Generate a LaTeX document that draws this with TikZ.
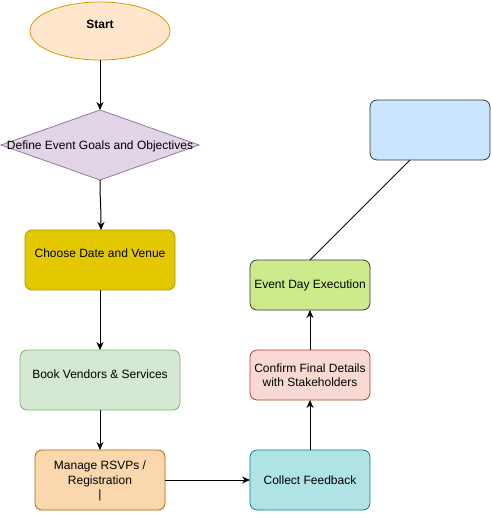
\documentclass[tikz,border=0pt]{standalone}
\usepackage{fontspec}
\setmainfont{Liberation Sans}
\usetikzlibrary{shapes.geometric,arrows.meta}
\definecolor{startfill}{HTML}{FFE6CC}\definecolor{startdraw}{HTML}{D79B00}
\definecolor{diafill}{HTML}{E1D5E7}\definecolor{diadraw}{HTML}{9673A6}
\definecolor{datefill}{HTML}{E3C800}\definecolor{datedraw}{HTML}{B09500}
\definecolor{vendfill}{HTML}{D5E8D4}\definecolor{venddraw}{HTML}{82B366}
\definecolor{rsvpfill}{HTML}{FAD7AC}\definecolor{rsvpdraw}{HTML}{B46504}
\definecolor{fbfill}{HTML}{B0E3E6}\definecolor{fbdraw}{HTML}{0E8088}
\definecolor{cffill}{HTML}{FAD9D5}\definecolor{cfdraw}{HTML}{AE4132}
\definecolor{edfill}{HTML}{CDEB8B}\definecolor{eddraw}{HTML}{36393D}
\definecolor{bluefill}{HTML}{CCE5FF}
\tikzset{
  box/.style={rounded corners=7pt, line width=0.8pt},
  lbl/.style={font=\fontsize{12}{14}\selectfont, align=center, inner sep=0pt},
  arr/.style={line width=1pt, -{Stealth[length=8pt,width=7pt]}},
}
\begin{document}
\begin{tikzpicture}[x=1pt,y=-1pt]
\useasboundingbox (0,0) rectangle (491,517);
% shapes
\draw[fill=startfill, draw=startdraw, line width=0.8pt] (100,31) ellipse [x radius=70, y radius=29];
\coordinate (st) at (100,31);
\node[lbl, font=\fontsize{12}{14}\selectfont\bfseries] (sttxt) at (100,24) {Start};
\draw[fill=diafill, draw=diadraw, line width=0.8pt] (1,145) -- (100,110) -- (199,145) -- (100,180) -- cycle;
\node[lbl] (dia) at (100,146) {Define Event Goals and Objectives};
\draw[box, fill=datefill, draw=datedraw] (25,230) rectangle (175,290);
\node[lbl] (date) at (100,253) {Choose Date and Venue};
\draw[box, fill=vendfill, draw=venddraw] (20,350) rectangle (180,410);
\node[lbl] (vend) at (100,374) {Book Vendors \& Services};
\draw[box, fill=rsvpfill, draw=rsvpdraw] (35,450) rectangle (165,510);
\node[lbl] (rsvp) at (100,481) {Manage RSVPs /\\[0.5pt] Registration\\[0pt] |};
\draw[box, fill=fbfill, draw=fbdraw] (250,450) rectangle (370,510);
\node[lbl] (fb) at (310,480) {Collect Feedback};
\draw[box, fill=cffill, draw=cfdraw] (250,350) rectangle (370,400);
\node[lbl] (cf) at (310,375.5) {Confirm Final Details\\ with Stakeholders};
\draw[box, fill=edfill, draw=eddraw] (250,260) rectangle (370,310);
\node[lbl] (ed) at (310,285) {Event Day Execution};
\draw[box, fill=bluefill, draw=eddraw] (370,100) rectangle (490,160);
\coordinate (blue) at (410,160);
% connector anchor coordinates
\coordinate (stB) at (100,60);
\coordinate (diaT) at (100,110);
\coordinate (diaB) at (100,180);
\coordinate (dateT) at (101,230);
\coordinate (dateB) at (100,290);
\coordinate (vendT) at (100,350);
\coordinate (vendB) at (100,410);
\coordinate (rsvpT) at (100,450);
\coordinate (rsvpR) at (165,480);
\coordinate (fbL) at (250,480);
\coordinate (fbT) at (310,450);
\coordinate (cfB) at (310,400);
\coordinate (cfT) at (310,350);
\coordinate (edB) at (310,310);
\coordinate (edT) at (310,260);
% connectors
\draw[arr] (stB) -- (diaT);
\draw[arr] (diaB) .. controls (100,200) and (101,205) .. (dateT);
\draw[arr] (dateB) -- (vendT);
\draw[arr] (vendB) -- (rsvpT);
\draw[arr] (rsvpR) -- (fbL);
\draw[arr] (fbT) -- (cfB);
\draw[arr] (cfT) -- (edB);
\draw[line width=1pt] (edT) -- (blue);
\end{tikzpicture}
\end{document}
